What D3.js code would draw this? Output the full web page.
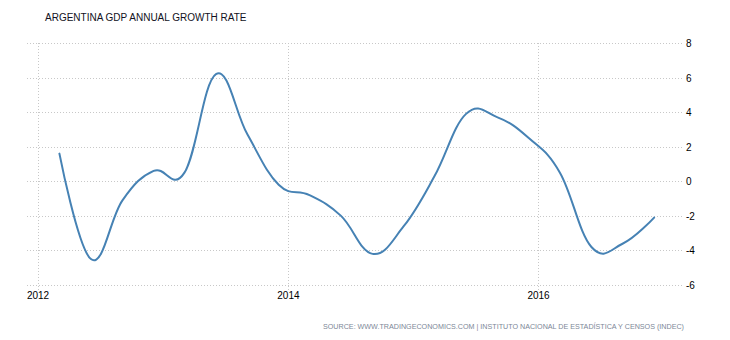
<!DOCTYPE html>
<html>
<head>
<meta charset="utf-8">
<script src="https://cdn.jsdelivr.net/npm/d3@7"></script>
<style>
  html, body { margin: 0; padding: 0; background: #fff; }
  svg { display: block; }
</style>
</head>
<body>
<svg id="chart" width="730" height="340"></svg>
<script>
// ---- data ----
const title = "ARGENTINA GDP ANNUAL GROWTH RATE";
const source = "SOURCE: WWW.TRADINGECONOMICS.COM | INSTITUTO NACIONAL DE ESTADÍSTICA Y CENSOS (INDEC)";
const dates = [
  "2012-03-05","2012-06-05","2012-09-05","2012-12-05",
  "2013-03-05","2013-06-05","2013-09-05","2013-12-05",
  "2014-03-05","2014-06-05","2014-09-05","2014-12-05",
  "2015-03-05","2015-06-05","2015-09-05","2015-12-05",
  "2016-03-05","2016-06-05","2016-09-05","2016-12-05"
];
const growth = [
  1.6, -4.5, -1.1, 0.6,
  0.5, 6.2, 2.7, -0.2,
  -0.8, -2.0, -4.2, -2.6,
  0.3, 3.9, 3.7, 2.5,
  0.5, -3.8, -3.6, -2.1
];
const yTicks = [8, 6, 4, 2, 0, -2, -4, -6];
const xTickYears = ["2012", "2014", "2016"];

// ---- drawing ----
const svg = d3.select("#chart");
const parse = d3.timeParse("%Y-%m-%d");
const data = dates.map((d, i) => ({ date: parse(d), value: growth[i] }));

const plotLeft = 27, plotRight = 683, plotTop = 43, plotBottom = 285;

const x = d3.scaleTime()
  .domain([new Date(2012, 0, 1), new Date(2016, 0, 1)])
  .range([37.5, 538]);
const y = d3.scaleLinear()
  .domain([-6, 8])
  .range([plotBottom, plotTop]);

const font = "'Liberation Sans', Arial, sans-serif";

// title
svg.append("text")
  .attr("x", 45).attr("y", 21)
  .attr("font-family", font).attr("font-size", 10)
  .attr("fill", "#111122")
  .text(title);

// horizontal gridlines
const grid = svg.append("g");
grid.selectAll("line.h").data(yTicks).join("line")
  .attr("class", "h")
  .attr("x1", plotLeft).attr("x2", plotRight)
  .attr("y1", d => Math.round(y(d)) + 0.5).attr("y2", d => Math.round(y(d)) + 0.5)
  .attr("stroke", "#c8c8c8").attr("stroke-width", 1)
  .attr("stroke-dasharray", "1,2");

// vertical gridlines
const xTickDates = xTickYears.map(s => d3.timeParse("%Y")(s));
grid.selectAll("line.v").data(xTickDates).join("line")
  .attr("class", "v")
  .attr("x1", d => Math.round(x(d)) + 0.5).attr("x2", d => Math.round(x(d)) + 0.5)
  .attr("y1", plotTop).attr("y2", plotBottom + 5)
  .attr("stroke", "#c8c8c8").attr("stroke-width", 1)
  .attr("stroke-dasharray", "1,2");

// y labels (right)
svg.append("g").selectAll("text").data(yTicks).join("text")
  .attr("x", 686).attr("y", d => y(d) + 4)
  .attr("font-family", font).attr("font-size", 10)
  .attr("fill", "#000")
  .text(d => d);

// x labels
svg.append("g").selectAll("text").data(xTickDates).join("text")
  .attr("x", d => x(d) + 0.5).attr("y", 299)
  .attr("text-anchor", "middle")
  .attr("font-family", font).attr("font-size", 10)
  .attr("fill", "#000")
  .text(d => d3.timeFormat("%Y")(d));

// line
const line = d3.line()
  .x(d => x(d.date))
  .y(d => y(d.value))
  .curve(d3.curveCardinal.tension(-0.2));

svg.append("path")
  .datum(data)
  .attr("d", line)
  .attr("fill", "none")
  .attr("stroke", "#4682b4")
  .attr("stroke-width", 2)
  .attr("stroke-linejoin", "round")
  .attr("stroke-linecap", "round");

// source
svg.append("text")
  .attr("x", 323).attr("y", 329)
  .attr("font-family", font).attr("font-size", 8)
  .attr("fill", "#7c8797")
  .attr("textLength", 361)
  .attr("lengthAdjust", "spacingAndGlyphs")
  .text(source);
</script>
</body>
</html>
